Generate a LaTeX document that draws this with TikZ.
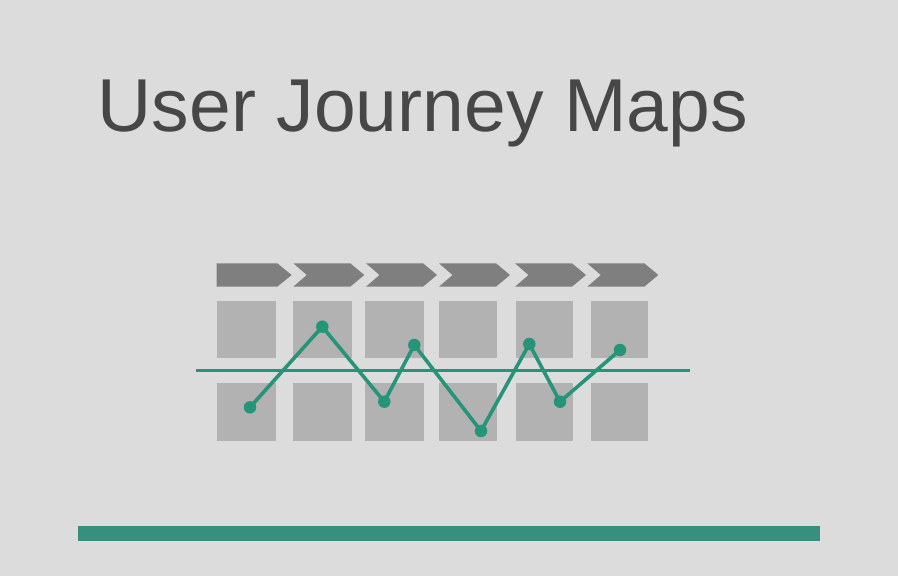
\documentclass[tikz,border=0pt]{standalone}
\usepackage{fontspec}
\setmainfont{Liberation Sans}
\definecolor{bgc}{RGB}{220,220,220}
\definecolor{chev}{RGB}{127,127,127}
\definecolor{cell}{RGB}{178,178,178}
\definecolor{teal}{RGB}{38,148,120}
\definecolor{barc}{RGB}{55,143,125}
\definecolor{titlec}{RGB}{71,71,71}
\tikzset{
  chevron/.style={fill=chev},
  cellbox/.style={fill=cell},
  trend/.style={draw=teal, line width=3.6pt, line join=round},
  dot/.style={circle, fill=teal, inner sep=0pt, minimum size=12.5pt},
}
\begin{document}
\begin{tikzpicture}[x=1pt,y=-1pt]
  \fill[bgc] (0,0) rectangle (898,576);
  \useasboundingbox (0,0) rectangle (898,576);

  % title
  \node[anchor=base west, inner sep=0pt, text=titlec, font=\fontsize{75}{80}\selectfont] (title) at (97.5,131) {User Journey Maps};

  % stage chevrons
  \fill[chevron] (216.7,263.3) -- (277.3,263.3) -- (291.7,275) -- (277.3,286.7) -- (216.7,286.7) -- cycle;
  \foreach \s in {293.3,366,439,515,587.3}{
    \fill[chevron] (\s,263.3) -- (\s+57,263.3) -- (\s+71,275) -- (\s+57,286.7) -- (\s,286.7) -- (\s+13.5,275) -- cycle;
  }

  % grid of cells
  \foreach \a/\b in {216.7/276, 292.7/352.3, 365/424, 439.3/497, 515.7/573.3, 590.7/648.3}{
    \fill[cellbox] (\a,300.7) rectangle (\b,358.3);
    \fill[cellbox] (\a,383.3) rectangle (\b,440.7);
  }

  % baseline
  \coordinate (l0) at (196,370.7);
  \coordinate (l1) at (690,370.7);
  \draw[draw=teal, line width=3.2pt] (l0) -- (l1);

  % experience curve
  \node[dot] (p1) at (250,407.3) {};
  \node[dot] (p2) at (322.3,326.7) {};
  \node[dot] (p3) at (384.3,401.7) {};
  \node[dot] (p4) at (414.3,345) {};
  \node[dot] (p5) at (481,431) {};
  \node[dot] (p6) at (529.3,344) {};
  \node[dot] (p7) at (560,401.7) {};
  \node[dot] (p8) at (620,350) {};
  \draw[trend] (p1.center) -- (p2.center) -- (p3.center) -- (p4.center) -- (p5.center) -- (p6.center) -- (p7.center) -- (p8.center);

  % footer bar
  \fill[barc] (77.5,526) rectangle (820,540.7);
\end{tikzpicture}
\end{document}
